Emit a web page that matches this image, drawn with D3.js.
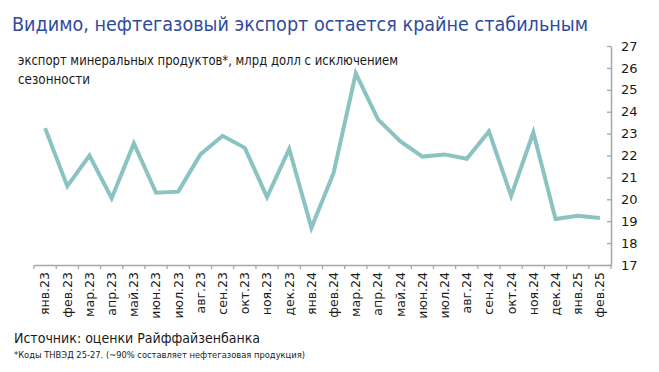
<!DOCTYPE html>
<html>
<head>
<meta charset="utf-8">
<script src="https://cdn.jsdelivr.net/npm/d3@7"></script>
<style>
body { margin: 0; background: #fff; }
svg text { font-family: "DejaVu Sans", sans-serif; }
</style>
</head>
<body>
<div id="chart"></div>
<script>
var months = ["янв.23", "фев.23", "мар.23", "апр.23", "май.23", "июн.23", "июл.23", "авг.23", "сен.23", "окт.23", "ноя.23", "дек.23",
    "янв.24", "фев.24", "мар.24", "апр.24", "май.24", "июн.24", "июл.24", "авг.24", "сен.24", "окт.24", "ноя.24", "дек.24",
    "янв.25", "фев.25"];
var exportValues = [23.25, 20.6, 22.0, 20.05, 22.55, 20.3, 20.35, 22.05, 22.9, 22.35, 20.1, 22.3,
    18.7, 21.2, 25.75, 23.65, 22.65, 21.95, 22.05, 21.85, 23.1, 20.15, 23.05, 19.1,
    19.25, 19.15];
var yTicks = [17, 18, 19, 20, 21, 22, 23, 24, 25, 26, 27];

var width = 659, height = 372;
var margin = {top: 46, right: 48, bottom: 107, left: 34};

var svg = d3.select("#chart").append("svg")
    .attr("width", width)
    .attr("height", height);

var x = d3.scaleBand()
    .domain(months)
    .range([margin.left, width - margin.right]);

var y = d3.scaleLinear()
    .domain([17, 27])
    .range([height - margin.bottom, margin.top]);

// заголовок
svg.append("text")
    .attr("x", 12).attr("y", 31)
    .attr("fill", "#2f4b9c")
    .attr("font-size", 19)
    .attr("textLength", 576)
    .attr("lengthAdjust", "spacingAndGlyphs")
    .text("Видимо, нефтегазовый экспорт остается крайне стабильным");

svg.append("text")
    .attr("x", 18).attr("y", 65)
    .attr("fill", "#1a1a1a")
    .attr("font-size", 14.5)
    .attr("textLength", 380)
    .attr("lengthAdjust", "spacingAndGlyphs")
    .text("экспорт минеральных продуктов*, млрд долл с исключением");

svg.append("text")
    .attr("x", 18).attr("y", 84)
    .attr("fill", "#1a1a1a")
    .attr("font-size", 14.5)
    .attr("textLength", 72)
    .attr("lengthAdjust", "spacingAndGlyphs")
    .text("сезонности");

// оси
var xAxis = svg.append("g")
    .attr("transform", "translate(0," + y(17) + ")")
    .call(d3.axisBottom(x).tickSize(0).tickPadding(6));

xAxis.select(".domain").attr("stroke", "#a6a6a6").attr("stroke-width", 1.5);
xAxis.selectAll(".tick text")
    .attr("transform", "rotate(-90)")
    .attr("text-anchor", "end")
    .attr("x", -7)
    .attr("y", 0)
    .attr("dy", "0.35em")
    .attr("font-size", 12.5)
    .attr("font-family", "DejaVu Sans")
    .attr("fill", "#1a1a1a");

// засечки по границам категорий
xAxis.selectAll(".bound")
    .data(months.concat([null]))
    .enter().append("line")
    .attr("class", "bound")
    .attr("x1", (d, i) => margin.left + i * x.step())
    .attr("x2", (d, i) => margin.left + i * x.step())
    .attr("y1", 0).attr("y2", 4)
    .attr("stroke", "#a6a6a6").attr("stroke-width", 1.3);

var yAxis = svg.append("g")
    .attr("transform", "translate(" + (width - margin.right) + ",0)")
    .call(d3.axisRight(y).tickValues(yTicks).tickSize(0).tickPadding(10).tickFormat(d3.format("d")));

yAxis.select(".domain").attr("stroke", "#a6a6a6").attr("stroke-width", 1.5);
yAxis.selectAll(".tick line")
    .attr("x1", -4).attr("x2", 0)
    .attr("stroke", "#a6a6a6").attr("stroke-width", 1.3);
yAxis.selectAll(".tick text")
    .attr("font-size", 13)
    .attr("font-family", "DejaVu Sans")
    .attr("fill", "#1a1a1a");

// линия
var line = d3.line()
    .x((d, i) => x(months[i]) + x.bandwidth() / 2)
    .y(d => y(d));

svg.append("path")
    .datum(exportValues)
    .attr("fill", "none")
    .attr("stroke", "#8bc3c2")
    .attr("stroke-width", 4)
    .attr("stroke-linejoin", "miter")
    .attr("d", line);

// подписи источника
svg.append("text")
    .attr("x", 14).attr("y", 343)
    .attr("fill", "#1a1a1a")
    .attr("font-size", 13.5)
    .attr("textLength", 246)
    .attr("lengthAdjust", "spacingAndGlyphs")
    .text("Источник: оценки Райффайзенбанка");

svg.append("text")
    .attr("x", 14).attr("y", 358)
    .attr("fill", "#1a1a1a")
    .attr("font-size", 9.5)
    .attr("textLength", 291)
    .attr("lengthAdjust", "spacingAndGlyphs")
    .text("*Коды ТНВЭД 25-27. (~90% составляет нефтегазовая продукция)");
</script>
</body>
</html>
